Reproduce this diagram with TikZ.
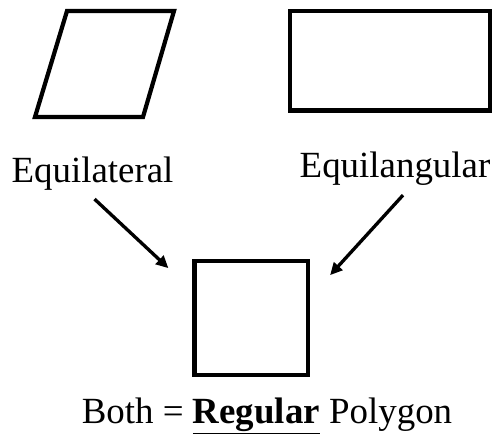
\documentclass[tikz,border=0pt]{standalone}
\usepackage{fontspec}
\setmainfont{Liberation Serif}
\usetikzlibrary{calc,arrows.meta}

\begin{document}
\begin{tikzpicture}[x=0.02cm, y=-0.02cm,
    figline/.style={line width=2.4pt, line join=miter},
    arr/.style={line width=1.9pt, -{Triangle[length=7pt,width=6.5pt]}},
    lbl/.style={font=\fontsize{21}{25}\selectfont, anchor=base}]
  \useasboundingbox (0,0) rectangle (500,438);

  % Equilateral shape (rhombus)
  \draw[figline] (67,11) -- (174,11) -- (143,117) -- (35,117) -- cycle;

  % Equiangular shape (rectangle)
  \node[figline, draw, minimum width=4cm, minimum height=1.99cm, inner sep=0pt] (rect) at (390,60.75) {};

  % Regular shape (square)
  \node[figline, draw, minimum size=2.27cm, inner sep=0pt] (square) at (251.25,318) {};

  % Labels
  \node[lbl] (equilat) at (92.5,183) {Equilateral};
  \node[lbl] (equilang) at (395,178) {Equilangular};
  \node[lbl] (both) at (267,423) {Both = \textbf{\underline{Regular}} Polygon};

  % Arrows
  \draw[arr] ($(equilat.south)+(2,2)$) -- ($(square.north west)+(-24,9)$);
  \draw[arr] ($(equilang.south)+(8,3)$) -- ($(square.north east)+(20,16)$);
\end{tikzpicture}
\end{document}
